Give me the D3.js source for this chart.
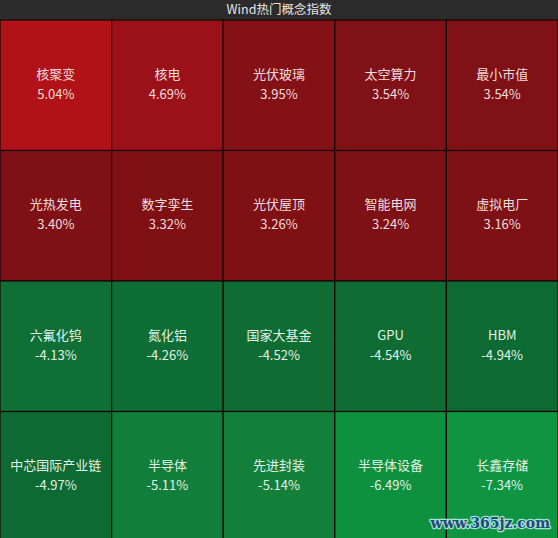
<!DOCTYPE html>
<html>
<head>
<meta charset="utf-8">
<script src="https://cdn.jsdelivr.net/npm/d3@7/dist/d3.min.js"></script>
<style>
  html, body { margin: 0; padding: 0; background: #2b2b2b; }
  svg { display: block; }
</style>
</head>
<body>
<svg id="chart" width="558" height="538"></svg>
<script>
const title = "Wind热门概念指数";
const names = ["核聚变","核电","光伏玻璃","太空算力","最小市值",
               "光热发电","数字孪生","光伏屋顶","智能电网","虚拟电厂",
               "六氟化钨","氮化铝","国家大基金","GPU","HBM",
               "中芯国际产业链","半导体","先进封装","半导体设备","长鑫存储"];
const changes = [5.04, 4.69, 3.95, 3.54, 3.54,
                 3.40, 3.32, 3.26, 3.24, 3.16,
                 -4.13, -4.26, -4.52, -4.54, -4.94,
                 -4.97, -5.11, -5.14, -6.49, -7.34];
const watermark = "www.365jz.com";

const W = 558, H = 538, titleH = 20, nCols = 5, nRows = 4, rowH = 130.5;
const svg = d3.select("#chart");

const x = d3.scaleBand().domain(d3.range(nCols)).range([0, W]).paddingInner(0);
const y = d3.scaleBand().domain(d3.range(nRows)).range([titleH, titleH + nRows * rowH]).paddingInner(0);

const redColor = d3.scaleLinear()
  .domain([3.16, 3.54, 3.95, 4.69, 5.04])
  .range(["#7e1115", "#801116", "#841116", "#9a1119", "#b01218"]);
const greenColor = d3.scaleLinear()
  .domain([-7.34, -6.49, -5.14, -5.11, -4.97, -4.13])
  .range(["#0f9441", "#0e913f", "#12803b", "#117f3b", "#0e6a33", "#0f6f35"]);
const color = v => v >= 0 ? redColor(v) : greenColor(v);
const fmt = v => d3.format(".2f")(v).replace("\u2212", "-") + "%";

// title bar
svg.append("rect").attr("x", 0).attr("y", 0).attr("width", W).attr("height", titleH).attr("fill", "#2b2b2b");
svg.append("text").attr("x", W / 2).attr("y", titleH / 2 + 1)
  .attr("text-anchor", "middle").attr("dominant-baseline", "middle")
  .attr("font-family", "'Noto Sans CJK SC', sans-serif").attr("font-size", 12.5)
  .attr("fill", "#e6e6e6").text(title);

const data = names.map((n, i) => ({ name: n, value: changes[i], col: i % nCols, row: Math.floor(i / nCols) }));

const cells = svg.append("g").selectAll("g").data(data).join("g")
  .attr("transform", d => `translate(${x(d.col)},${y(d.row)})`);

cells.append("rect")
  .attr("x", 0).attr("y", 0)
  .attr("width", x.bandwidth()).attr("height", y.bandwidth())
  .attr("fill", d => color(d.value))
  .attr("stroke", "#150606").attr("stroke-width", 1.2);

const tf = "'Noto Sans CJK SC', 'Open Sans', sans-serif";
const txtFill = d => d.value >= 0 ? "#f2dcdc" : "#e2f2e6";
cells.append("text")
  .attr("x", x.bandwidth() / 2).attr("y", y.bandwidth() / 2 - 10)
  .attr("text-anchor", "middle").attr("dominant-baseline", "middle")
  .attr("font-family", tf).attr("font-size", 13)
  .attr("fill", txtFill)
  .text(d => d.name);
cells.append("text")
  .attr("x", x.bandwidth() / 2).attr("y", y.bandwidth() / 2 + 10)
  .attr("text-anchor", "middle").attr("dominant-baseline", "middle")
  .attr("font-family", tf).attr("font-size", 13)
  .attr("fill", txtFill)
  .text(d => fmt(d.value));

// watermark
svg.append("text").attr("x", 550).attr("y", 528)
  .attr("text-anchor", "end")
  .attr("font-family", "'DejaVu Serif', serif").attr("font-weight", "bold").attr("font-size", 14)
  .attr("fill", "#1d4a7a").attr("stroke", "#a8e0d0").attr("stroke-width", 2.5)
  .attr("paint-order", "stroke").attr("stroke-linejoin", "round")
  .text(watermark);
</script>
</body>
</html>
